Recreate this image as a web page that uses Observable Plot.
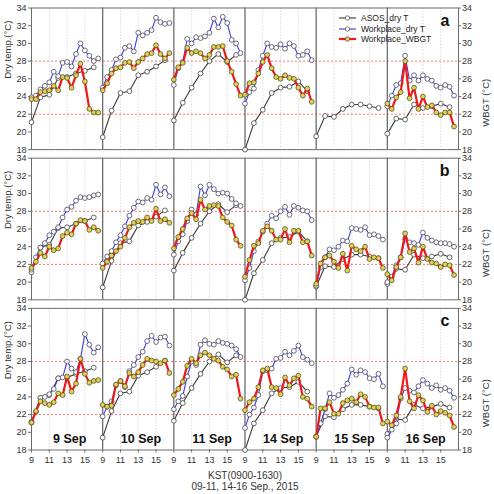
<!DOCTYPE html>
<html>
<head>
<meta charset="utf-8">
<script src="https://cdn.jsdelivr.net/npm/d3@7"></script>
<script src="https://cdn.jsdelivr.net/npm/@observablehq/plot@0.6"></script>
<style>
  body { margin: 0; background: #fff; font-family: "Liberation Sans", Arial, sans-serif; }
  #chart { position: relative; width: 494px; height: 494px; }
  .legend { position: absolute; left: 339px; top: 13px; font-size: 8.5px; color: #222; }
  .legend div { display: flex; align-items: center; height: 10.5px; white-space: nowrap; }
  .legend svg { margin-right: 5px; }
</style>
</head>
<body>
<div id="chart"></div>
<script>
// Panels (workplaces a, b, c) and observation days
const panels = ["a", "b", "c"];
const days = ["9 Sep", "10 Sep", "11 Sep", "14 Sep", "15 Sep", "16 Sep"];
const asosHours = [9, 10, 11, 12, 13, 14, 15, 16];
const workHours = [9, 9.5, 10, 10.5, 11, 11.5, 12, 12.5, 13, 13.5, 14, 14.5, 15, 15.5, 16, 16.5];
const tickHours = [9, 11, 13, 15];
const gridHours = [11, 13, 15];
const yTicks = [18, 20, 22, 24, 26, 28, 30, 32, 34];
const thresholds = [22, 28];

// ASOS station dry temperature (hourly), shared by all panels
const asosDryT = [
  [21.1, 23.9, 24.2, 26.1, 26.2, 26.6, 26.9, 27.3],
  [19.4, 22.4, 24.4, 24.6, 26.4, 26.8, 27.4, 28.1],
  [21.3, 23.3, 25.0, 26.6, 28.0, 28.8, 27.9, 28.7],
  [18.0, 21.0, 22.5, 24.4, 25.0, 25.1, 25.7, 24.6],
  [19.5, 21.8, 21.7, 22.6, 23.1, 23.1, 22.9, 22.7],
  [19.8, 21.5, 21.4, 23.1, 22.7, 22.9, 23.2, 22.8]
];

// Workplace dry temperature (30-min)
const dryT_a = [
  [23.9, 24.1, 24.8, 25.2, 25.6, 26.8, 26.3, 27.8, 27.9, 27.4, 28.8, 30.0, 29.2, 28.6, 28.0, 28.3],
  [25.0, 26.2, 27.0, 28.2, 28.4, 29.5, 29.7, 29.1, 31.2, 30.9, 31.2, 31.5, 32.9, 32.4, 32.2, 32.3],
  [25.3, 27.2, 27.9, 30.5, 30.0, 30.7, 30.6, 30.8, 31.2, 32.8, 31.8, 33.0, 32.3, 30.4, 30.0, 28.9],
  [23.2, 24.5, 24.9, 27.0, 28.6, 30.0, 29.6, 29.5, 29.9, 29.4, 30.0, 29.7, 28.6, 28.7, 29.1, 28.1],
  null,
  [22.9, 24.1, 25.3, 25.5, 28.6, 25.8, 26.4, 25.8, 26.4, 26.0, 25.8, 25.2, 25.0, 25.3, 25.1, 24.1]
];
const dryT_b = [
  [21.4, 22.8, 23.9, 24.4, 25.3, 25.7, 26.2, 27.3, 28.2, 28.5, 29.2, 29.6, 29.5, 29.6, 29.8, 29.9],
  [22.1, 22.9, 23.5, 24.5, 25.3, 26.3, 27.5, 28.4, 29.1, 29.0, 29.5, 29.3, 31.0, 29.9, 30.7, 29.7],
  [23.1, 24.6, 25.4, 26.9, 28.2, 27.6, 30.8, 29.8, 31.0, 30.5, 30.0, 30.1, 30.0, 29.4, 28.9, 28.6],
  [20.2, 21.6, 23.5, 24.6, 25.7, 26.6, 27.5, 27.2, 28.0, 28.5, 27.6, 28.6, 28.4, 28.1, 28.0, 27.0],
  [19.6, 21.7, 22.8, 23.7, 23.6, 24.0, 24.7, 24.6, 26.1, 26.0, 25.9, 26.2, 25.3, 25.4, 25.2, 24.8],
  [20.0, 20.6, 21.9, 22.8, 24.9, 24.5, 24.4, 24.2, 25.6, 25.0, 24.7, 24.5, 24.4, 24.4, 24.3, 24.0]
];
const dryT_c = [
  [21.2, 22.3, 23.9, 24.0, 24.3, 24.9, 26.1, 26.2, 28.0, 27.2, 26.8, 28.3, 31.1, 29.9, 29.0, 29.6],
  [21.8, 22.9, 23.5, 25.3, 25.8, 25.1, 26.9, 27.6, 28.5, 29.1, 30.3, 30.9, 30.2, 30.7, 30.8, 29.8],
  [22.6, 23.5, 24.1, 26.3, 28.0, 27.6, 29.9, 30.4, 30.0, 29.9, 30.3, 30.1, 30.0, 29.8, 29.4, 28.5],
  [20.5, 22.0, 22.8, 24.2, 26.9, 27.0, 27.2, 28.3, 28.4, 29.1, 28.7, 29.2, 29.8, 28.5, 28.2, 27.8],
  [19.5, 21.0, 22.6, 24.4, 23.9, 24.2, 24.8, 25.5, 27.1, 26.5, 27.0, 26.8, 26.1, 26.0, 26.6, 25.2],
  [19.4, 20.3, 21.0, 23.8, 25.0, 24.7, 24.5, 25.2, 25.9, 25.5, 25.0, 25.3, 24.8, 25.0, 24.7, 23.9]
];

// Workplace WBGT (30-min)
const wbgt_a = [
  [23.7, 23.7, 24.5, 24.6, 24.7, 25.2, 24.7, 26.2, 26.1, 25.0, 26.4, 27.7, 25.7, 22.6, 22.2, 22.2],
  [24.7, 25.5, 26.6, 27.2, 27.3, 27.8, 27.9, 27.2, 27.9, 28.3, 28.8, 28.9, 29.8, 28.8, 28.3, 28.9],
  [25.9, 27.3, 27.8, 29.5, 28.9, 29.1, 28.9, 28.3, 28.7, 29.6, 29.6, 29.7, 28.0, 26.8, 25.4, 24.1],
  [24.2, 25.5, 25.6, 26.6, 27.9, 28.7, 27.2, 26.2, 26.0, 26.4, 26.1, 26.0, 25.0, 24.1, 24.9, 23.4],
  null,
  [23.2, 22.6, 23.9, 24.5, 28.0, 23.8, 25.0, 22.6, 24.0, 22.8, 23.0, 22.2, 21.9, 22.2, 22.2, 20.6]
];
const wbgt_b = [
  [21.6, 22.3, 23.3, 22.9, 24.0, 23.6, 23.8, 25.2, 25.6, 25.4, 26.6, 27.0, 26.9, 25.9, 26.2, 25.8],
  [21.6, 22.3, 23.0, 23.5, 24.0, 25.0, 26.2, 26.7, 26.9, 26.8, 27.3, 26.9, 28.3, 26.9, 27.1, 26.7],
  [23.8, 25.1, 26.0, 27.2, 27.8, 27.1, 29.3, 28.2, 28.6, 28.7, 28.6, 27.3, 26.8, 26.4, 24.8, 24.1],
  [20.6, 22.5, 24.1, 24.4, 25.8, 26.3, 25.8, 24.8, 24.8, 26.0, 24.5, 25.8, 25.8, 24.5, 24.6, 23.0],
  [19.8, 22.1, 22.8, 23.0, 22.3, 21.6, 23.2, 21.3, 24.1, 23.7, 23.5, 24.0, 22.6, 22.8, 22.7, 21.6],
  [20.9, 20.2, 21.7, 22.8, 25.5, 23.4, 23.8, 22.2, 24.0, 22.6, 22.2, 22.1, 21.7, 22.0, 21.9, 20.8]
];
const wbgt_c = [
  [21.1, 22.4, 23.5, 23.3, 23.1, 23.4, 24.4, 24.2, 26.3, 24.6, 25.5, 28.3, 26.6, 25.6, 25.8, 25.9],
  [23.1, 22.9, 23.0, 25.4, 25.8, 25.2, 26.7, 26.3, 26.8, 27.6, 28.3, 28.1, 28.0, 27.8, 28.1, 26.7],
  [24.2, 24.9, 25.7, 27.5, 28.3, 27.8, 28.7, 29.0, 28.7, 28.3, 28.1, 27.4, 27.1, 26.3, 26.5, 23.8],
  [22.5, 23.4, 23.8, 25.1, 27.0, 27.2, 25.1, 25.0, 24.3, 26.2, 25.3, 26.1, 26.4, 24.0, 23.8, 22.9],
  [19.5, 22.7, 22.7, 23.4, 22.1, 22.1, 23.3, 23.6, 23.8, 23.4, 24.3, 24.0, 22.9, 22.8, 22.8, 21.0],
  [21.2, 20.8, 21.9, 24.0, 27.2, 23.5, 22.7, 24.2, 23.6, 22.3, 23.0, 22.0, 22.4, 22.2, 21.9, 20.6]
];

// Each day occupies an 8-hour slot (09:00-17:00) on a shared time axis
const SLOT = 8;
const pos = (day, hour) => day * SLOT + hour - 9;

function toRows(values, hours, panel) {
  return values.flatMap((vals, d) =>
    vals ? vals.map((v, i) => ({panel, day: d, hour: hours[i], t: pos(d, hours[i]), v})) : []);
}

const asosRows = panels.flatMap(p => toRows(asosDryT, asosHours, p));
const dryRows = [
  ...toRows(dryT_a, workHours, "a"),
  ...toRows(dryT_b, workHours, "b"),
  ...toRows(dryT_c, workHours, "c")
];
const wbgtRows = [
  ...toRows(wbgt_a, workHours, "a"),
  ...toRows(wbgt_b, workHours, "b"),
  ...toRows(wbgt_c, workHours, "c")
];

const dayIdx = days.map((_, d) => d);
const xTicks = dayIdx.flatMap(d => tickHours.map(h => pos(d, h)));
const xGrid = dayIdx.flatMap(d => gridHours.map(h => pos(d, h)));
const daySeparators = dayIdx.slice(1).map(d => pos(d, 9));
const hourLabel = v => String(9 + (Math.round(v) % SLOT));

const series = {
  asos: {stroke: "#3a3a3a", width: 1.1, fill: "#ffffff", dotStroke: "#555555"},
  dry:  {stroke: "#3a3ae0", width: 1.1, fill: "#ffffff", dotStroke: "#5a5a70"},
  wbgt: {stroke: "#ee1a1a", width: 2.2, fill: "#e2d24e", dotStroke: "#55502e"}
};

const chart = Plot.plot({
  width: 494,
  height: 494,
  marginLeft: 31,
  marginRight: 36,
  marginTop: 7.5,
  marginBottom: 44.5,
  style: {fontFamily: "'Liberation Sans', Arial, sans-serif", fontSize: "9px", color: "#333", background: "#fff"},
  x: {domain: [0, SLOT * days.length]},
  y: {domain: [18, 34]},
  fy: {domain: panels, axis: null, paddingInner: 0.057, paddingOuter: 0, round: false},
  marks: [
    Plot.ruleX(xGrid, {stroke: "#cfcfcf", strokeWidth: 0.8, strokeDasharray: "1.5,1.5"}),
    Plot.ruleY(thresholds, {stroke: "#f06a6a", strokeWidth: 0.9, strokeDasharray: "2,2"}),
    Plot.ruleX(daySeparators, {stroke: "#6c6c6c", strokeWidth: 1.3}),
    Plot.frame({stroke: "#6c6c6c", strokeWidth: 1}),
    Plot.axisX({anchor: "bottom", ticks: xTicks, tickFormat: hourLabel, tickSize: 3, tickPadding: 4, label: null, stroke: "#6c6c6c"}),
    Plot.axisY({anchor: "left", ticks: yTicks, tickSize: 3, tickPadding: 2, label: null, stroke: "#6c6c6c"}),
    Plot.axisY({anchor: "right", ticks: yTicks, tickSize: 2, tickPadding: 1.5, label: null, stroke: "#6c6c6c"}),

    Plot.line(asosRows, {x: "t", y: "v", z: "day", fy: "panel", stroke: series.asos.stroke, strokeWidth: series.asos.width}),
    Plot.dot(asosRows, {x: "t", y: "v", fy: "panel", r: 2.4, fill: series.asos.fill, stroke: series.asos.dotStroke, strokeWidth: 0.9}),
    Plot.line(dryRows, {x: "t", y: "v", z: "day", fy: "panel", stroke: series.dry.stroke, strokeWidth: series.dry.width}),
    Plot.dot(dryRows, {x: "t", y: "v", fy: "panel", r: 2.4, fill: series.dry.fill, stroke: series.dry.dotStroke, strokeWidth: 0.9}),
    Plot.line(wbgtRows, {x: "t", y: "v", z: "day", fy: "panel", stroke: series.wbgt.stroke, strokeWidth: series.wbgt.width}),
    Plot.dot(wbgtRows, {x: "t", y: "v", fy: "panel", r: 2.4, fill: series.wbgt.fill, stroke: series.wbgt.dotStroke, strokeWidth: 0.8}),

    // Day names along the bottom panel
    Plot.text(days, {x: (d, i) => pos(i, 13.3), fy: () => "c", frameAnchor: "bottom", dy: -11.5,
      lineAnchor: "middle", fontSize: 12.5, fontWeight: "bold", fill: "#111"}),
    // Panel letters
    Plot.text(panels, {text: d => d, fy: d => d, frameAnchor: "top-right", dx: -9, dy: 13,
      textAnchor: "end", lineAnchor: "middle", fontSize: 16, fontWeight: "bold", fill: "#111"}),
    // Axis titles, repeated on every panel
    Plot.text(["Dry temp.(°C)"], {frameAnchor: "left", dx: -24, rotate: -90, fontSize: 9.5, fill: "#333"}),
    Plot.text(["WBGT (°C)"], {frameAnchor: "right", dx: 27, rotate: -90, fontSize: 9.5, fill: "#333"}),
    Plot.text(["KST(0900-1630)\n09-11, 14-16 Sep., 2015"], {fy: () => "c", frameAnchor: "bottom", dy: 21.5,
      lineAnchor: "top", lineHeight: 1.1, fontSize: 10, fill: "#333"})
  ]
});

const root = document.getElementById("chart");
root.appendChild(chart);

// Series key inside panel a
const legendItems = [
  {label: "ASOS_dry T", s: series.asos},
  {label: "Workplace_dry T", s: series.dry},
  {label: "Workplace_WBGT", s: series.wbgt}
];
const legend = document.createElement("div");
legend.className = "legend";
legend.innerHTML = legendItems.map(({label, s}) =>
  `<div><svg width="17" height="8"><line x1="0" x2="17" y1="4" y2="4" stroke="${s.stroke}" stroke-width="${s.width}"/>` +
  `<circle cx="8.5" cy="4" r="2.2" fill="${s.fill}" stroke="${s.dotStroke}" stroke-width="0.8"/></svg>${label}</div>`
).join("");
root.appendChild(legend);
</script>
</body>
</html>
